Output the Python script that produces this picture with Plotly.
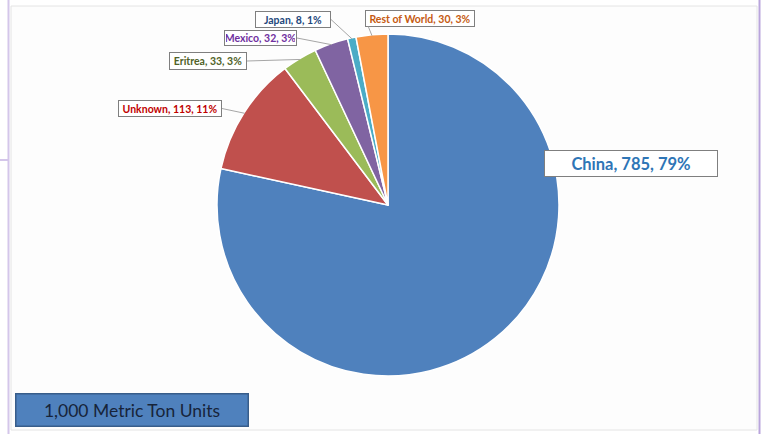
import math
import plotly.graph_objects as go

# ---- data ----
countries = ["China", "Unknown", "Eritrea", "Mexico", "Japan", "Rest of World"]
values = [785, 113, 33, 32, 8, 30]
percents = [79, 11, 3, 3, 1, 3]
slice_colors = ["#4F81BD", "#C0504D", "#9BBB59", "#8064A2", "#4BACC6", "#F79646"]
label_colors = ["#2E75B6", "#C00000", "#4F6228", "#7030A0", "#1F497D", "#C55A11"]
unit_note = "1,000 Metric Ton Units"

W, H = 762, 434
cx, cy, R = 388, 205, 171  # pie centre / radius in px


def px(x):
    return x / W


def py(y):
    return 1 - y / H


fig = go.Figure()

# frame (slide screenshot look)
fig.add_shape(type="rect", xref="paper", yref="paper", x0=px(11), x1=px(757), y0=py(430), y1=py(6),
              line=dict(color="#e4e4e4", width=1), fillcolor="#fdfdfd", layer="below")
fig.add_shape(type="line", xref="paper", yref="paper", x0=px(8.5), x1=px(8.5), y0=0, y1=1,
              line=dict(color="#d4c6ea", width=2), layer="below")
fig.add_shape(type="line", xref="paper", yref="paper", x0=px(759.5), x1=px(759.5), y0=0, y1=1,
              line=dict(color="#b9a5dc", width=2), layer="below")
fig.add_shape(type="line", xref="paper", yref="paper", x0=0, x1=px(8), y0=py(160), y1=py(160),
              line=dict(color="#d4c6ea", width=2), layer="below")

fig.add_trace(go.Pie(
    labels=countries, values=values, sort=False, direction="clockwise", rotation=0,
    marker=dict(colors=slice_colors, line=dict(color="white", width=1.5)),
    textinfo="none", hoverinfo="label+value+percent", showlegend=False,
    domain=dict(x=[px(cx - R), px(cx + R)], y=[py(cy + R), py(cy - R)]),
))

# label box geometry (px): tail point (box edge) and box size, anchor side
label_layout = {
    "Unknown": dict(tail=(222, 108.5), anchor="right", w=100, h=13),
    "Eritrea": dict(tail=(247, 61), anchor="right", w=74, h=14),
    "Mexico": dict(tail=(297, 38), anchor="right", w=69, h=12),
    "Japan": dict(tail=(331, 19.5), anchor="right", w=72, h=13),
    "Rest of World": dict(tail=(365, 18.5), anchor="left", w=106, h=13),
}

total = sum(values)
cum = 0
for name, v, p, col in zip(countries, values, percents, label_colors):
    mid = (cum + v / 2) / total * 2 * math.pi
    cum += v
    text = f"<b>{name}, {v}, {p}%</b>"
    if name == "China":
        fig.add_annotation(xref="paper", yref="paper", x=px(631), y=py(163.5), text=text,
                           xanchor="center", yanchor="middle",
                           showarrow=False, font=dict(family="Lato", size=16.5, color=col),
                           bgcolor="white", bordercolor="#7f7f7f", borderwidth=1, borderpad=1,
                           width=170, height=23, align="center")
        continue
    hx = cx + (R - 1) * math.sin(mid)
    hy = cy - (R - 1) * math.cos(mid)
    L = label_layout[name]
    tx, ty = L["tail"]
    fig.add_annotation(xref="paper", yref="paper", x=px(hx), y=py(hy), text=text,
                       showarrow=True, arrowhead=0, arrowwidth=1, arrowcolor="#a6a6a6",
                       ax=tx - hx, ay=ty - hy, xanchor=L["anchor"], yanchor="middle",
                       font=dict(family="Lato", size=10.5, color=col),
                       bgcolor="white", bordercolor="#7f7f7f", borderwidth=1, borderpad=1,
                       width=L["w"], height=L["h"], align="center")

# unit note box
fig.add_annotation(xref="paper", yref="paper", x=px(131.5), y=py(409.5), text=unit_note,
                   xanchor="center", yanchor="middle",
                   showarrow=False, font=dict(family="Lato", size=17.5, color="#17243a"),
                   bgcolor="#4F81BD", bordercolor="#385D8A", borderwidth=1.5, borderpad=2,
                   width=227, height=27, align="center")

fig.update_layout(width=W, height=H, margin=dict(l=0, r=0, t=0, b=0),
                  paper_bgcolor="white", plot_bgcolor="white")

fig.write_html("out.html")
